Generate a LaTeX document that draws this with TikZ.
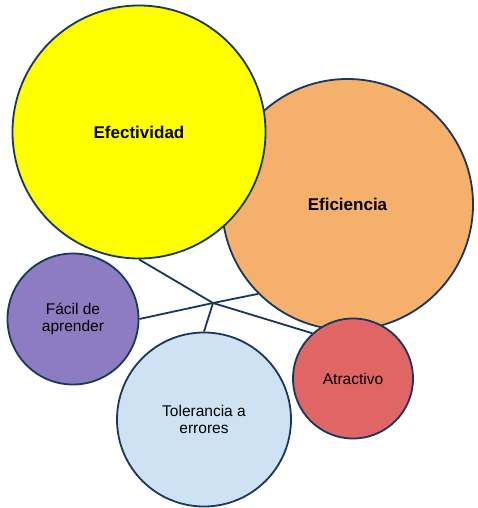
\documentclass[tikz,border=0pt]{standalone}
\usepackage{fontspec}
\setmainfont{Liberation Sans}
\usepackage{tikz}
\usetikzlibrary{positioning,calc}
\usepackage{xcolor}
\definecolor{rim}{HTML}{17375E}
\definecolor{amarillo}{HTML}{FFFF00}
\definecolor{naranja}{HTML}{F5B06B}
\definecolor{violeta}{HTML}{8E7CC3}
\definecolor{celeste}{HTML}{CFE2F3}
\definecolor{rojo}{HTML}{E06666}

\begin{document}
\begin{tikzpicture}[x=1pt,y=-1pt,
  bubble/.style={circle,draw=rim,line width=1.8pt,inner sep=0pt,align=center,
    font=\fontsize{15.5}{17}\selectfont},
  bigbubble/.style={bubble,font=\fontsize{17}{20}\selectfont\bfseries},
  link/.style={draw=rim,line width=1.8pt}]
\useasboundingbox (0,0) rectangle (478,508);
\node[bigbubble,fill=naranja,minimum size=251pt] (efi) at (347.5,204.5) {Eficiencia};
\node[bigbubble,fill=amarillo,minimum size=253pt] (efe) at (139,132) {Efectividad};
\node[bubble,fill=violeta,minimum size=131pt] (fac) at (73,319) {Fácil de\\aprender};
\node[bubble,fill=celeste,minimum size=174pt] (tol) at (204,419.5) {Tolerancia a\\errores};
\node[bubble,fill=rojo,minimum size=120pt] (atr) at (353,378.5) {Atractivo};
\coordinate (hub) at (213,303);
% lines meet in one point
\draw[link] (hub) -- (efe.south);
\draw[link] (hub) -- (efi.225);
\draw[link] (hub) -- (fac.east);
\draw[link] (hub) -- (tol.north);
\draw[link] (hub) -- (atr.132);
\end{tikzpicture}
\end{document}
